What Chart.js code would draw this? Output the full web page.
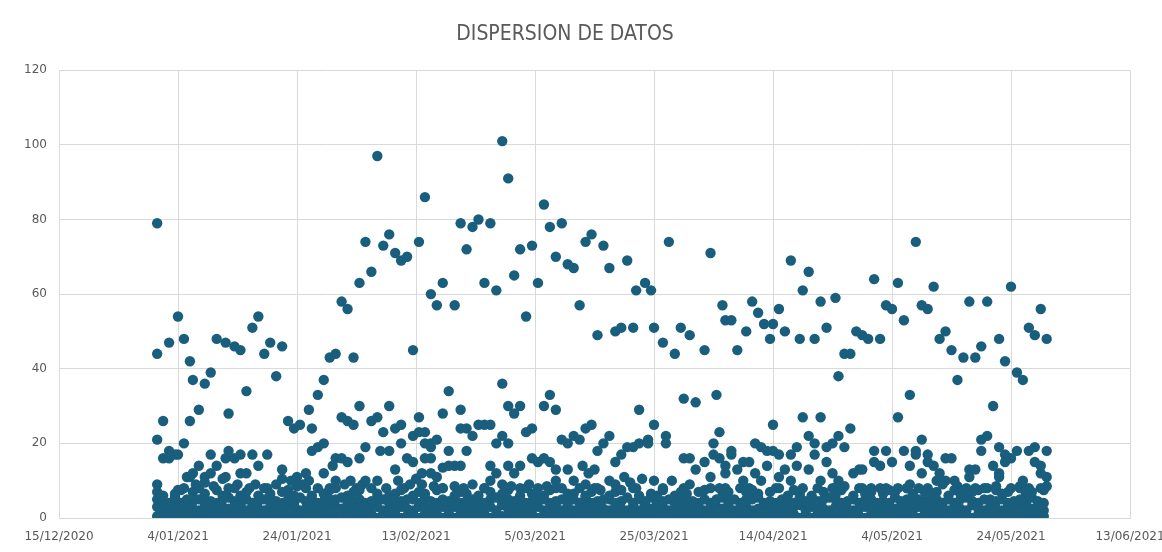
<!DOCTYPE html>
<html>
<head>
<meta charset="utf-8">
<script src="https://cdn.jsdelivr.net/npm/chart.js@4.4.1/dist/chart.umd.min.js"></script>
<style>
html, body { margin: 0; padding: 0; background: #fff; }
#wrap { width: 1162px; height: 552px; }
</style>
</head>
<body>
<div id="wrap"><canvas id="grafico"></canvas></div>
<script>
// eje X: dias contados desde el 15/12/2020, una marca cada 20 dias
const etiquetasX = ['15/12/2020', '4/01/2021', '24/01/2021', '13/02/2021', '5/03/2021',
    '25/03/2021', '14/04/2021', '4/05/2021', '24/05/2021', '13/06/2021'];
const marcasY = [0, 20, 40, 60, 80, 100, 120];

// puntos altos (dia, valor)
const altosDia = [16.5, 16.5, 16.5, 17.5, 17.5, 18.5, 18.5, 20, 20, 21, 21, 22, 22,
    22.5, 23.5, 24.5, 25.5, 26.5, 28, 28.5, 29.5, 30.5, 31.5, 32.5, 33.5, 34.5, 35.5, 36.5, 37.5,
    38.5, 39.5, 40.5, 42, 42.5, 43.5, 44.5, 45.5, 46.5, 47.5, 48.5, 49.5, 50.5, 51.5, 52.5, 53.5,
    54.5, 55.5, 56.5, 57.5,
    58.5, 59.5, 60.5, 61.5, 62.5, 63.5, 64.5, 66.5, 67.5, 68.5,
    69.5, 70.5, 71.5, 72.5, 73.5, 74.5, 75.5, 76.5, 77.5, 78.5,
    79.5, 80.5, 81.5, 82.5, 83.5, 84.5, 85.5, 86.5, 87.5, 88.5,
    89.5, 90.5, 91.5, 92.5, 93.5, 94.5, 95.5, 96.5, 97,
    98.5, 99.5, 100, 101.5, 102.5, 103.5, 104.5, 106, 108.5, 109.5,
    111.5, 112, 113, 114, 115.5, 116.5, 117.5, 118.5, 119.5, 120,
    121, 122, 123, 124.5, 125, 126, 127, 128, 129, 130.5,
    131, 132, 133, 134, 135, 136, 137, 138,
    139, 140, 141, 142, 143, 144, 145, 146, 147, 148,
    149, 150, 151, 152, 153, 154, 155, 156, 157, 158,
    159, 160, 161, 162, 163, 164, 165, 166];
const altosValor = [79, 44, 21, 26, 16, 47, 18, 54, 17, 48, 20, 42, 26,
    37, 29, 36, 39, 48, 47, 28, 46, 45, 34, 51, 54, 44, 47, 38, 46,
    26, 24, 25, 29, 24, 33, 37, 43, 44, 58, 56, 43, 63, 74, 66, 97,
    73, 76, 71, 69,
    70, 45, 74, 86, 60, 57, 63, 57, 79, 72,
    78, 80, 63, 79, 61, 101, 91, 65, 72, 54,
    73, 63, 84, 78, 70, 79, 68, 67, 57, 74,
    76, 49, 73, 67, 50, 51, 69, 51, 61,
    63, 61, 51, 47, 74, 44, 51, 49, 45, 71,
    57, 53, 53, 45, 50, 58, 55, 52, 48, 52,
    56, 50, 69, 48, 61, 66, 48, 58, 51, 59,
    38, 44, 44, 50, 49, 48, 64, 48,
    57, 56, 63, 53, 33, 74, 57, 56, 62, 48,
    50, 45, 37, 43, 58, 43, 46, 58, 30, 48,
    42, 62, 39, 37, 51, 49, 56, 48];

// puntos medios (dia, valor)
const mediosDia = [
    16.5, 18.5, 19.5, 20, 21, 21.5, 22, 22.5, 23, 23.5,
    24.5, 24.5, 25.5, 25.5, 26, 26.5, 27.5, 28, 28, 28.5,
    28.5, 29.5, 30, 30.5, 30.5, 31.5, 32, 32.5, 33, 33.5,
    35, 35, 36.5, 37.5, 37.5, 39, 40, 40, 41, 41.5,
    42, 42.5, 43.5, 43.5, 44.5, 44.5, 45.5, 46, 46.5, 46.5,
    47.5, 47.5, 48, 48.5, 48.5, 49, 49.5, 50, 50.5, 50.5,
    51, 51.5, 51.5, 52.5, 53.5, 53.5, 54, 54.5, 55, 55.5,
    55.5, 56.5, 56.5, 57, 57.5, 57.5, 58, 58.5, 59, 59.5,
    59.5, 60, 60.5, 60.5, 61.5, 61.5, 61.5, 61, 61, 62.5,
    62.5, 62.5, 62.5, 63, 63.5, 63.5, 64.5, 64.5, 64.5, 65.5,
    65.5, 65.5, 66.5, 66.5, 67.5, 67.5, 67.5, 68, 68.5, 68.5,
    69.5, 69.5, 70.5, 71.5, 71.5, 72.5, 72.5, 72.5, 73.5, 73.5,
    74.5, 74.5, 74.5, 75.5, 75.5, 75.5, 76, 76.5, 76.5, 77.5,
    77.5, 77.5, 78.5, 79, 79.5, 79.5, 80.5, 80.5, 81.5, 81.5,
    82, 82.5, 82.5, 83.5, 83.5, 83.5, 84.5, 84.5, 85.5, 85.5,
    86.5, 86.5, 87.5, 87.5, 88, 88.5, 88.5, 89, 89.5, 90,
    90, 90.5, 91, 91.5, 92.5, 92.5, 93.5, 93.5, 94.5, 95,
    95.5, 96, 96.5, 97, 97.5, 97.5, 98, 99, 99, 100,
    100, 101.5, 102, 102, 103, 105, 105, 105, 106, 106,
    107, 107, 108.5, 109.5, 110, 110, 110.5, 111, 111, 111,
    112, 112, 112, 113, 113, 114, 115, 115, 116, 116,
    117, 117, 118, 118, 119, 119, 120, 120, 121, 121,
    121, 122, 123, 123, 124, 124, 125, 125, 126, 126,
    127, 127, 128, 128, 129, 129, 130, 130, 130, 131,
    131, 131, 132, 132, 133, 133.5, 134.5, 135, 135, 136.5,
    137, 137, 138, 138, 139, 139, 140, 141, 141, 142,
    142.5, 143, 143, 144, 144, 144.5, 145, 145, 146, 146,
    146, 147, 147.5, 148, 148.5, 149, 149, 150, 150.5, 151,
    152.5, 153, 153, 154, 154, 155, 155, 156, 156, 157,
    157.5, 158, 158, 158, 159, 159, 160, 160, 161, 161.5,
    162, 163, 163, 164, 164, 165, 165, 165, 166, 166,
    166];
const mediosValor = [
    9, 16, 17, 7.5, 8, 11, 11, 12, 9, 14,
    11, 9.5, 17, 12, 8.5, 14, 10.5, 16, 11, 18,
    8, 16, 9, 17, 12, 12, 8, 17, 9, 14,
    17, 8, 9, 13, 10.5, 10, 11, 8.5, 9, 12,
    10, 18, 19, 8, 20, 12, 8, 14, 16, 10,
    27, 16, 9, 26, 15, 10, 25, 8, 30, 16,
    9, 19, 10, 26, 27, 10, 18, 23, 8, 30,
    18, 24, 13, 10, 25, 20, 8, 16, 9, 22,
    15, 10.5, 27, 23, 20, 16, 23, 12, 9, 19,
    16, 12, 20, 8.5, 21, 11, 28, 13.5, 8, 34,
    18, 14, 14, 8.5, 29, 24, 14, 8, 24, 18,
    22, 9, 25, 25, 8, 25, 14, 10, 20, 12,
    36, 22, 9, 30, 20, 14, 8.5, 28, 12, 30,
    14, 8, 23, 9, 24, 16, 15, 8, 30, 16,
    8.5, 33, 15, 29, 13, 10, 21, 8, 20, 13,
    22, 10, 21, 8, 14, 24, 9, 12, 25, 13,
    8, 18, 7.5, 20, 22, 10, 15, 9, 17, 11,
    19, 9.5, 19, 8, 29, 20, 10.5, 21, 20, 25,
    10, 8, 22, 20, 10, 32, 16, 8, 16, 9,
    31, 13, 15, 11, 20, 17, 33, 23, 16, 8,
    14, 12, 8, 18, 17, 13, 15, 10, 15, 8,
    20, 12, 19, 10, 18, 14, 25, 18, 17, 11,
    8, 13, 17, 10, 19, 14, 27, 8, 22, 13,
    20, 17, 27, 10, 19, 15, 20, 12, 8, 22,
    10, 9, 19, 8.5, 24, 12, 13, 8, 13, 8,
    18, 15, 14, 8, 18, 8, 15, 27, 8, 18,
    8, 14, 9, 18, 17, 8, 21, 12, 17, 15,
    8, 14, 10, 12, 9, 16, 10, 16, 10, 8.5,
    8, 13, 11, 13, 8, 21, 18, 22, 8, 14,
    8.5, 19, 12, 11, 17, 15, 16, 8, 18, 8.5,
    10, 18, 8, 19, 15, 14, 12, 8, 18, 11,
    8.5];

// banda baja: cuatro valores por dia desde el dia 16.5
const bajoInicio = 16.5;
const bajo1 = [
    0.5, 1, 0, 1, 0.5, 1, 0, 0.5, 1, 0,
    1, 0.5, 0, 1, 1, 0, 0.5, 1, 0, 1,
    0, 1, 0.5, 1, 0, 1, 1, 0.5, 0, 1,
    0.5, 0, 1, 1, 0.5, 0, 1, 0, 1, 0.5,
    1, 0, 0.5, 1, 0, 1, 0.5, 1, 0, 1,
    0, 1, 1, 0.5, 0, 1, 0, 1, 0.5, 1,
    1, 0.5, 0, 1, 0, 0.5, 1, 1, 0, 0.5,
    0, 1, 0.5, 0, 1, 1, 0, 0.5, 1, 0,
    1, 0, 1, 0.5, 0, 1, 0.5, 0, 1, 1,
    0.5, 1, 0, 1, 0.5, 0, 1, 1, 0, 0.5,
    1, 0, 0.5, 1, 1, 0, 0.5, 1, 0, 1,
    0, 1, 1, 0, 0.5, 1, 0, 1, 0.5, 0,
    1, 0.5, 0, 1, 0, 1, 1, 0.5, 0, 1,
    0, 1, 0.5, 1, 1, 0, 0.5, 0, 1, 1,
    0.5, 0, 1, 1, 0, 0.5, 1, 0, 1, 0.5];
const bajo2 = [
    3, 2, 2.5, 3, 2, 3.5, 2.5, 2, 3, 2.5,
    2, 3, 2.5, 2, 3.5, 2, 3, 2.5, 2, 3,
    2.5, 2, 3, 3.5, 2, 2.5, 3, 2, 2.5, 3,
    3, 2.5, 2, 3, 2.5, 2, 3.5, 3, 2, 2.5,
    2, 3, 2.5, 2, 3, 3.5, 2, 2.5, 3, 2,
    3, 2, 2.5, 3, 2, 2.5, 3, 2, 3.5, 2.5,
    2.5, 3, 2, 2.5, 3, 2, 2.5, 3.5, 2, 3,
    2, 2.5, 3, 2, 3, 2.5, 2, 3, 2.5, 2,
    3, 2, 3.5, 2.5, 2, 3, 2, 2.5, 3, 2.5,
    2.5, 3, 2, 2, 3, 2.5, 3.5, 2, 2.5, 3,
    2, 2.5, 3, 3, 2, 2.5, 2, 3, 3.5, 2,
    3, 2, 2.5, 2, 3, 3, 2.5, 2, 2.5, 3,
    2.5, 3, 2, 3.5, 2.5, 2, 3, 2, 3, 2.5,
    2, 3, 2.5, 2, 3, 2.5, 2, 3.5, 2.5, 2,
    3, 2.5, 2, 3, 2.5, 3, 2, 2.5, 3, 2];
const bajo3 = [
    5, 4.5, 4, 5.5, 4, 5, 4.5, 5, 4, 4.5,
    4, 5, 5.5, 4.5, 4, 5, 4, 4.5, 5, 5.5,
    4.5, 4, 5, 4, 5.5, 4.5, 5, 4, 4.5, 5,
    5, 5.5, 4, 4.5, 5, 4, 4.5, 5.5, 5, 4,
    4, 4.5, 5, 5, 4, 5.5, 4.5, 4, 5, 4.5,
    5.5, 4, 4.5, 5, 4.5, 4, 5, 5.5, 4, 5,
    4.5, 5, 4, 4.5, 5.5, 5, 4, 4.5, 5, 4,
    5, 4, 5.5, 4, 4.5, 5, 5, 4, 4.5, 5.5,
    4, 5, 4.5, 5.5, 4, 4.5, 5, 4, 5, 4.5,
    4.5, 4, 5, 4, 5, 5.5, 4.5, 5, 4, 5,
    5, 5.5, 4, 4.5, 4, 5, 4.5, 4, 5.5, 4.5,
    4, 4.5, 5, 5.5, 5, 4, 4.5, 5, 4, 5,
    5, 4, 4.5, 4, 5.5, 4.5, 5, 4, 5, 4.5,
    4.5, 5, 4, 5, 4, 5, 5.5, 4.5, 4, 5,
    5, 4.5, 5, 4, 4.5, 5, 4, 5.5, 4.5, 4];
const bajo4 = [
    7, 6, null, 6.5, 7.5, null, 7, 8, 6.5, null,
    7.5, 6, null, 8, 6, 7, null, 6, 8, 6.5,
    null, 7, 7.5, 6, null, 8, 6, null, 6.5, 7.5,
    8, null, 6, 7, 7.5, null, 8, 6.5, null, 6,
    6.5, 7.5, null, 6, 7, 6.5, null, 7.5, 8, null,
    6, 7, 6.5, null, 6, 8, 7, null, 6.5, 7.5,
    null, 6, 8, 6.5, null, 6, 7.5, 8, null, 6.5,
    6.5, null, 6, 7, 8, null, 6, 7, 7.5, null,
    8, 6, null, 6.5, 6, 7.5, null, 6, 7, 6.5,
    null, 7, 7.5, 8, null, 6, 7, null, 8, 7,
    7.5, 6.5, null, 7, 8, null, 6, 7.5, 6.5, null,
    6, 8, 7, null, 6, 7.5, null, 6, 8, 6.5,
    7, null, 6.5, 7.5, 7, null, 8, 6.5, null, 7,
    6.5, 7, null, 6, 7.5, 6.5, null, 7, 7.5, 8,
    null, 7.5, 6.5, 7, null, 8, 6.5, 7, null, 7.5];

const puntos = [];
altosDia.forEach((d, i) => puntos.push({ x: d, y: altosValor[i] }));
mediosDia.forEach((d, i) => puntos.push({ x: d, y: mediosValor[i] }));
[bajo1, bajo2, bajo3, bajo4].forEach(serie => {
    serie.forEach((v, i) => {
        if (v !== null) puntos.push({ x: bajoInicio + i, y: v });
    });
});

const gris = '#595959';
const linea = '#d9d9d9';

new Chart(document.getElementById('grafico').getContext('2d'), {
    type: 'scatter',
    data: {
        datasets: [{
            label: 'Datos',
            data: puntos,
            backgroundColor: '#1a5e7e',
            borderColor: '#1a5e7e',
            borderWidth: 0,
            pointRadius: 5.2,
            pointHoverRadius: 5.2,
            clip: 0
        }]
    },
    options: {
        responsive: true,
        maintainAspectRatio: false,
        animation: false,
        layout: { padding: { left: 0, right: 32, top: 0, bottom: 0 } },
        scales: {
            x: {
                type: 'linear',
                min: 0,
                max: 180,
                grid: { color: linea, drawTicks: false },
                border: { color: linea },
                ticks: {
                    stepSize: 20,
                    padding: 12,
                    maxRotation: 0,
                    color: gris,
                    font: { family: 'DejaVu Sans', size: 12 },
                    callback: v => etiquetasX[v / 20]
                },
                afterFit: s => { s.height = 34; s.paddingLeft = 0; s.paddingRight = 0; }
            },
            y: {
                min: marcasY[0],
                max: marcasY[marcasY.length - 1],
                grid: { color: linea, drawTicks: false },
                border: { color: linea },
                ticks: {
                    stepSize: 20,
                    padding: 12,
                    color: gris,
                    font: { family: 'DejaVu Sans', size: 12 }
                },
                afterFit: s => { s.width = 59; }
            }
        },
        plugins: {
            legend: { display: false },
            tooltip: { enabled: false },
            title: {
                display: true,
                text: 'DISPERSION DE DATOS',
                color: gris,
                font: { family: "'Liberation Sans Narrow', 'DejaVu Sans Condensed', sans-serif", size: 21, weight: 'normal' },
                padding: { top: 22, bottom: 23 }
            }
        }
    }
});
</script>
</body>
</html>
